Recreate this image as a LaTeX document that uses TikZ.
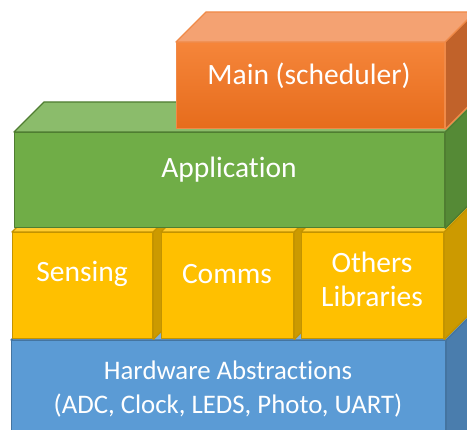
\documentclass[tikz,border=0pt]{standalone}
\usepackage{fontspec}
\setmainfont{Carlito}[Ligatures=NoCommon]
\usetikzlibrary{calc}

\definecolor{mainfrontA}{HTML}{F5853A}
\definecolor{mainfrontB}{HTML}{E66C1C}
\definecolor{maintop}{HTML}{F4A272}
\definecolor{mainside}{HTML}{C1622A}
\definecolor{mainedge}{HTML}{F08A48}
\definecolor{appfront}{HTML}{70AD47}
\definecolor{apptop}{HTML}{8BBC6B}
\definecolor{appside}{HTML}{558A36}
\definecolor{appedge}{HTML}{4F7D31}
\definecolor{libfront}{HTML}{FFC000}
\definecolor{libtop}{HTML}{FFCB2E}
\definecolor{libside}{HTML}{CC9A00}
\definecolor{libedge}{HTML}{C39300}
\definecolor{hwfront}{HTML}{5B9BD5}
\definecolor{hwtop}{HTML}{7FB0DE}
\definecolor{hwside}{HTML}{4A7DAD}
\definecolor{hwedge}{HTML}{4474A0}

\tikzset{
  face/.style={line width=1.3pt, line join=round},
  front/.style={face, draw, rectangle, inner sep=0pt, anchor=north west},
  caption/.style={text=white, align=center, font=\fontsize{29.5}{34}\selectfont},
}

% top and right faces of a block, from its front node
\newcommand{\blockfaces}[4]{%
  \filldraw[face, fill=#2, draw=#4] (#1.north west) -- ++(30,-30) -- ($(#1.north east)+(30,-30)$) -- (#1.north east) -- cycle;
  \filldraw[face, fill=#3, draw=#4] (#1.north east) -- ++(30,-30) -- ($(#1.south east)+(30,-30)$) -- (#1.south east) -- cycle;
}

\begin{document}
\begin{tikzpicture}[x=1pt, y=-1pt]
  \clip (0,0) rectangle (467,430);
  % hardware layer
  \node[front, fill=hwfront, draw=hwedge, minimum width=434, minimum height=110] (hw) at (11,340) {};
  \blockfaces{hw}{hwtop}{hwside}{hwedge}
  \node[caption, font=\fontsize{26.8}{34}\selectfont] (hwtext) at (228,389) {Hardware Abstractions\\(ADC, Clock, LEDS, Photo, UART)};
  % libraries
  \node[front, fill=libfront, draw=libedge, minimum width=140, minimum height=106] (sensing) at (12,232) {};
  \blockfaces{sensing}{libtop}{libside}{libedge}
  \node[front, fill=libfront, draw=libedge, minimum width=132, minimum height=106] (comms) at (161,232) {};
  \blockfaces{comms}{libtop}{libside}{libedge}
  \node[front, fill=libfront, draw=libedge, minimum width=142, minimum height=106] (others) at (301,232) {};
  \blockfaces{others}{libtop}{libside}{libedge}
  \node[caption] (sensingtext) at (82,274) {Sensing};
  \node[caption] (commstext) at (227,274) {Comms};
  \node[caption] (otherstext) at (372,279) {Others\\Libraries};
  % application
  \node[front, fill=appfront, draw=appedge, minimum width=430, minimum height=95] (app) at (14,132) {};
  \blockfaces{app}{apptop}{appside}{appedge}
  \node[caption] (apptext) at (229,170) {Application};
  % main
  \node[front, top color=mainfrontA, bottom color=mainfrontB, draw=mainedge, minimum width=268, minimum height=86] (main) at (176,42) {};
  \blockfaces{main}{maintop}{mainside}{mainedge}
  \node[caption] (maintext) at (309,76) {Main (scheduler)};
\end{tikzpicture}
\end{document}
